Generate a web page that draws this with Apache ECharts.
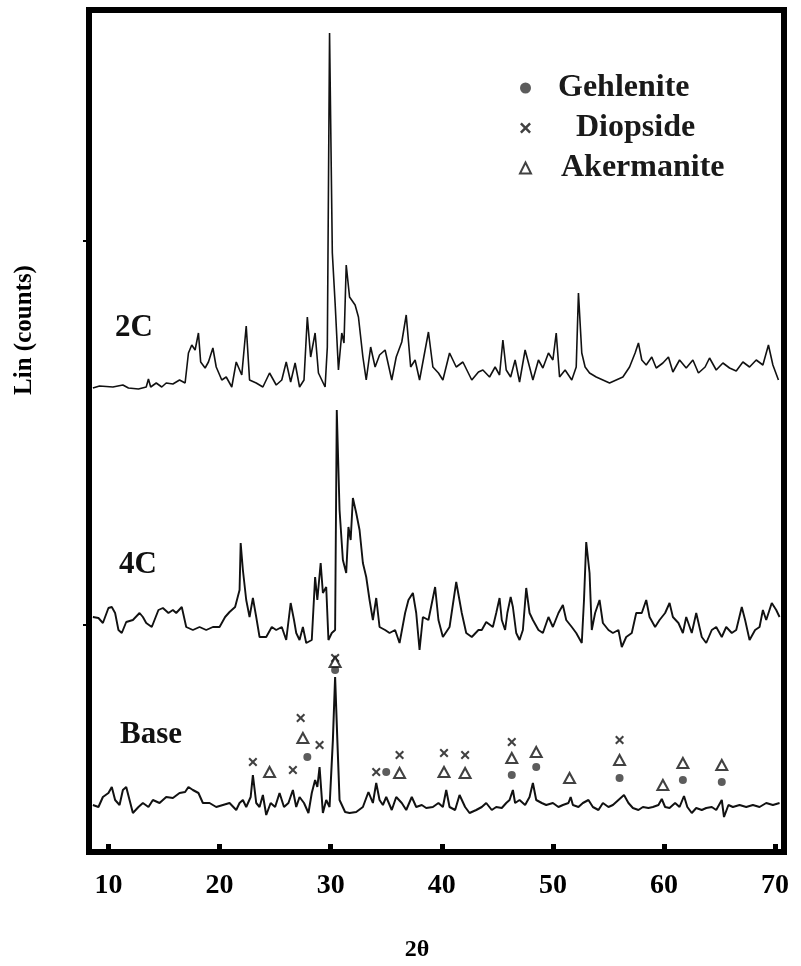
<!DOCTYPE html>
<html><head><meta charset="utf-8">
<script src="https://cdn.jsdelivr.net/npm/echarts@6/dist/echarts.min.js"></script>
<style>html,body{margin:0;padding:0;background:#fff}#c{width:801px;height:966px}</style>
</head><body><div id="c"></div>
<script>
// ---- 2C trace (2θ, counts offset) ----
const theta2C = [8.6,9.2,10.4,11.3,11.8,12.7,13.4,13.6,13.8,14.3,14.8,15.2,15.8,16.4,16.9,17.2,17.5,17.8,18.1,18.3,18.7,19.0,19.4,19.7,20.2,20.6,21.1,21.5,22.0,22.4,22.7,23.3,23.9,24.5,25.1,25.6,26.0,26.4,26.8,27.2,27.6,27.9,28.2,28.6,28.9,29.5,29.7,29.9,30.15,30.4,30.7,31.0,31.2,31.4,31.7,32.2,32.5,32.9,33.2,33.6,34.0,34.4,34.9,35.5,35.9,36.4,36.8,37.2,37.6,38.0,38.8,39.2,39.7,40.1,40.7,41.3,41.9,42.7,43.3,43.7,44.3,44.8,45.2,45.5,45.8,46.2,46.6,47.0,47.5,47.9,48.2,48.7,49.1,49.6,50.0,50.3,50.6,51.1,51.7,52.1,52.3,52.6,52.9,53.3,53.9,54.5,55.1,55.7,56.3,56.9,57.4,57.7,58.0,58.4,58.9,59.3,59.9,60.4,60.8,61.4,62.0,62.6,63.1,63.7,64.1,64.7,65.3,65.9,66.5,67.1,67.7,68.3,68.9,69.4,69.8,70.3];
const counts2C = [464,466,465,467,464,463,465,473,465,469,465,469,468,472,469,499,507,502,519,490,484,490,504,485,472,475,465,490,477,526,472,469,465,479,467,472,490,470,489,465,472,535,495,519,479,465,505,819,599,549,482,519,509,587,555,547,535,495,472,505,485,497,502,472,495,510,537,485,492,472,520,485,479,472,499,485,490,472,480,482,475,485,477,512,482,475,492,470,502,485,472,492,484,499,492,519,475,482,472,485,559,499,485,479,475,472,469,472,475,485,499,509,492,487,495,484,489,495,480,492,484,492,479,485,494,482,489,484,481,490,485,492,487,507,487,472];

// ---- 4C trace ----
const theta4C = [8.6,9.1,9.5,10.0,10.3,10.6,10.9,11.2,11.6,12.2,12.8,13.1,13.4,13.9,14.5,14.9,15.4,15.8,16.1,16.6,17.0,17.6,18.2,18.8,19.4,20.0,20.5,20.9,21.4,21.8,21.9,22.1,22.4,22.7,23.0,23.3,23.6,24.2,24.7,25.1,25.6,26.0,26.4,26.7,26.9,27.2,27.5,27.8,28.3,28.6,28.8,29.1,29.3,29.6,29.8,30.1,30.4,30.55,30.8,31.1,31.4,31.6,31.8,32.0,32.3,32.6,32.9,33.2,33.5,33.8,34.1,34.4,34.9,35.3,35.8,36.2,36.7,37.0,37.4,37.7,38.0,38.3,38.8,39.4,39.7,40.1,40.7,41.3,41.8,42.2,42.7,43.3,43.6,44.0,44.6,44.9,45.2,45.4,45.7,45.9,46.2,46.4,46.7,47.0,47.3,47.6,47.9,48.2,48.7,49.1,49.6,50.0,50.5,50.9,51.2,51.7,52.1,52.6,52.8,53.0,53.3,53.5,53.8,54.2,54.5,55.0,55.4,55.9,56.2,56.6,57.1,57.5,58.0,58.4,58.7,59.2,59.6,60.1,60.5,60.8,61.3,61.7,62.0,62.5,62.9,63.4,63.8,64.3,64.7,65.2,65.6,66.1,66.5,67.0,67.3,67.7,68.2,68.6,68.9,69.2,69.7,70.1,70.4];
const counts4C = [235,234,229,244,245,239,222,219,230,232,239,235,229,225,242,244,239,242,239,245,225,222,225,222,225,225,235,240,245,262,309,282,252,235,254,235,215,215,225,222,225,212,249,232,219,212,225,209,212,275,252,289,259,265,212,219,222,442,342,292,279,325,312,354,339,322,289,275,252,232,254,225,222,219,222,209,239,252,259,239,202,235,232,265,232,215,225,270,239,219,215,222,222,230,225,239,254,232,222,239,255,245,219,212,222,264,239,232,222,219,235,225,239,247,232,225,219,209,252,310,279,222,239,252,229,222,219,222,205,215,219,239,239,252,235,225,232,239,249,235,229,219,235,219,239,215,209,222,225,215,225,219,222,245,232,212,222,225,242,232,249,242,235];

// ---- Base trace ----
const thetaBase = [8.6,9.1,9.5,10.0,10.3,10.6,11.0,11.3,11.6,11.9,12.2,12.7,13.1,13.6,14.0,14.6,15.2,15.8,16.4,16.9,17.2,17.6,18.1,18.5,19.1,19.7,20.3,20.9,21.5,21.8,22.1,22.4,22.8,23.0,23.3,23.6,23.9,24.2,24.6,25.0,25.4,25.8,26.2,26.6,26.9,27.2,27.6,28.0,28.3,28.6,28.8,29.0,29.3,29.6,29.9,30.2,30.4,30.6,30.8,31.3,31.7,32.3,32.9,33.4,33.8,34.1,34.4,34.7,35.0,35.5,35.9,36.4,36.8,37.3,37.7,38.2,38.6,39.2,39.7,40.1,40.4,40.7,41.2,41.6,42.1,42.5,43.1,43.6,44.0,44.5,44.9,45.4,45.8,46.1,46.4,46.6,47.0,47.5,47.9,48.2,48.5,49.0,49.4,50.0,50.5,50.9,51.4,51.6,51.8,52.3,52.7,53.2,53.6,54.1,54.5,55.0,55.4,55.9,56.4,56.8,57.2,57.7,58.1,58.6,59.0,59.5,59.8,60.1,60.5,61.0,61.4,61.8,62.1,62.5,62.9,63.4,63.8,64.3,64.7,65.2,65.4,65.8,66.2,66.8,67.4,68.0,68.6,69.2,69.8,70.4];
const countsBase = [47,45,55,59,65,52,47,62,65,52,39,45,49,45,52,49,55,54,59,60,65,62,59,49,49,45,47,49,42,49,52,45,55,77,49,45,57,37,49,45,59,45,49,62,45,55,49,39,59,72,65,85,39,52,45,112,175,112,52,40,39,40,45,60,49,69,52,47,55,42,55,49,42,55,45,47,44,45,49,45,62,45,42,57,45,39,42,45,49,42,45,44,49,52,62,49,52,47,55,69,52,49,47,49,45,47,49,55,47,45,49,52,45,42,49,45,47,52,57,49,44,42,45,44,45,47,53,45,44,49,45,56,45,39,44,42,44,45,42,52,35,47,45,47,45,47,45,49,47,49];

// ---- phase markers on Base pattern (2θ, counts) ----
const gehleniteTheta = [27.9,30.4,35.0,46.3,48.5,56.0,61.7,65.2];
const gehleniteCounts = [95,182,80,77,85,74,72,70];
const diopsideTheta = [23.0,26.6,27.3,29.0,30.4,34.1,36.2,40.2,42.1,46.3,56.0];
const diopsideCounts = [90,82,134,107,194,80,97,99,97,110,112];
const akermaniteTheta = [24.5,27.5,30.4,36.2,40.2,42.1,46.3,48.5,51.5,56.0,59.9,61.7,65.2];
const akermaniteCounts = [80,114,190,79,80,79,94,100,74,92,67,89,87];

const xTicks = [10,20,30,40,50,60,70];
const yTicks = [227,611];
const sampleLabels = ['2C','4C','Base'];

const zip = (a,b)=>a.map((v,i)=>[v,b[i]]);
const FONT = '"Liberation Serif","Times New Roman",serif';
const X_PATH = 'path://M0,1.6 L1.6,0 L5,3.4 L8.4,0 L10,1.6 L6.6,5 L10,8.4 L8.4,10 L5,6.6 L1.6,10 L0,8.4 L3.4,5 Z';

const chart = echarts.init(document.getElementById('c'), null, {renderer:'canvas'});
chart.setOption({
  animation:false,
  backgroundColor:'#fff',
  grid:{left:89,right:17,top:10,bottom:114,show:true,borderColor:'#000',borderWidth:6},
  xAxis:{type:'value',min:8.25,max:70.8,
    axisLine:{show:false},splitLine:{show:false},
    axisTick:{show:true,inside:true,length:8,lineStyle:{color:'#000',width:5},customValues:xTicks},
    axisLabel:{customValues:xTicks,margin:20,fontSize:28,fontWeight:'bold',fontFamily:FONT,color:'#000'}},
  yAxis:{type:'value',min:0,max:842,
    axisLine:{show:false},splitLine:{show:false},axisLabel:{show:false},
    axisTick:{show:true,inside:false,length:6,lineStyle:{color:'#000',width:2},customValues:yTicks}},
  legend:{orient:'vertical',left:514,top:65,itemWidth:11,itemHeight:11,itemGap:4,selectedMode:false,
    textStyle:{fontSize:32,fontWeight:'bold',fontFamily:FONT,color:'#1a1a1a',lineHeight:36,padding:[0,0,0,22]},
    data:[{name:'Gehlenite'},{name:'Diopside',textStyle:{padding:[0,0,0,40]}},{name:'Akermanite',textStyle:{padding:[0,0,0,25]}}]},
  graphic:[
    {type:'text',x:115,y:328,style:{text:sampleLabels[0],fontSize:31,fontWeight:'bold',fontFamily:FONT,fill:'#111',verticalAlign:'middle'}},
    {type:'text',x:119,y:565,style:{text:sampleLabels[1],fontSize:31,fontWeight:'bold',fontFamily:FONT,fill:'#111',verticalAlign:'middle'}},
    {type:'text',x:120,y:735,style:{text:sampleLabels[2],fontSize:31,fontWeight:'bold',fontFamily:FONT,fill:'#111',verticalAlign:'middle'}},
    {type:'text',x:25,y:330,rotation:Math.PI/2,style:{text:'Lin (counts)',fontSize:25,fontWeight:'bold',fontFamily:FONT,fill:'#000',align:'center',verticalAlign:'middle'}},
    {type:'text',x:417,y:950,style:{text:'2θ',fontSize:24,fontWeight:'bold',fontFamily:FONT,fill:'#000',align:'center',verticalAlign:'middle'}}
  ],
  series:[
    {name:'2C',type:'line',data:zip(theta2C,counts2C),symbol:'none',lineStyle:{color:'#111',width:1.6}},
    {name:'4C',type:'line',data:zip(theta4C,counts4C),symbol:'none',lineStyle:{color:'#111',width:1.9}},
    {name:'Base',type:'line',data:zip(thetaBase,countsBase),symbol:'none',lineStyle:{color:'#111',width:2}},
    {name:'Gehlenite',type:'scatter',data:zip(gehleniteTheta,gehleniteCounts),symbol:'circle',symbolSize:8,itemStyle:{color:'#333'},z:5},
    {name:'Diopside',type:'scatter',data:zip(diopsideTheta,diopsideCounts),symbol:X_PATH,symbolSize:9,itemStyle:{color:'#111'},z:5},
    {name:'Akermanite',type:'scatter',data:zip(akermaniteTheta,akermaniteCounts),symbol:'triangle',symbolSize:[11,10],itemStyle:{color:'#fff',borderColor:'#111',borderWidth:2},z:5}
  ]
});
</script></body></html>
